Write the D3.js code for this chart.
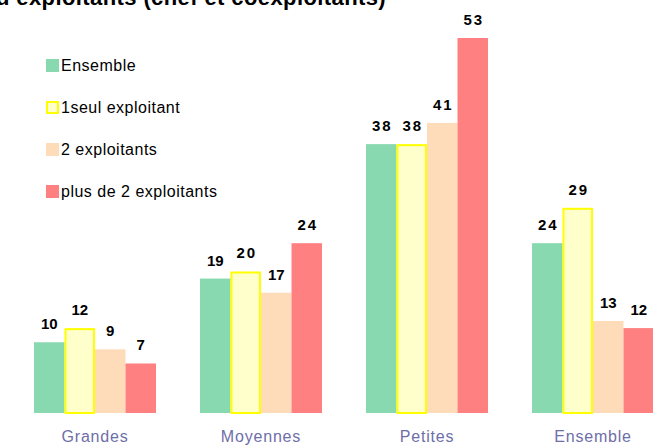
<!DOCTYPE html>
<html>
<head>
<meta charset="utf-8">
<script src="https://cdn.jsdelivr.net/npm/d3@7"></script>
<style>
  body { margin: 0; background: #fff; }
  svg { display: block; font-family: Arial, "Liberation Sans", sans-serif; }
</style>
</head>
<body>
<svg id="chart" width="653" height="447"></svg>
<script>
var categories = ["Grandes", "Moyennes", "Petites", "Ensemble"];
var seriesNames = ["Ensemble", "1seul exploitant", "2 exploitants", "plus de 2 exploitants"];
var ensemble = [10, 19, 38, 24];
var unSeul = [12, 20, 38, 29];
var deux = [9, 17, 41, 13];
var plusDeDeux = [7, 24, 53, 12];
var titleText = "d exploitants (chef et coexploitants)";

(function () {
  var svg = d3.select("#chart");
  var fills = ["#88d8b0", "#ffffcc", "#ffdcb9", "#ff8080"];
  var strokes = [null, "#ffff00", null, null];
  var values = [ensemble, unSeul, deux, plusDeDeux];

  var x0 = d3.scaleBand().domain(categories).range([34, 654]).paddingInner(0.265).paddingOuter(0);
  var x1 = d3.scaleBand().domain(d3.range(seriesNames.length)).range([0, x0.bandwidth()]);
  var y = d3.scaleLinear().domain([0, 53]).range([413, 38]);

  // title (clipped at the top, as in the source)
  svg.append("text")
    .attr("x", -4)
    .attr("y", 5)
    .attr("font-size", 22)
    .attr("font-weight", "bold")
    .attr("letter-spacing", "0.4px")
    .attr("fill", "#000")
    .text(titleText);

  var groups = svg.selectAll(".grp")
    .data(categories)
    .enter()
    .append("g")
    .attr("class", "grp")
    .attr("transform", function (d) { return "translate(" + x0(d) + ",0)"; });

  groups.each(function (cat, ci) {
    var g = d3.select(this);
    values.forEach(function (arr, si) {
      var v = arr[ci];
      var bx = x1(si), bw = x1.bandwidth();
      if (strokes[si]) {
        g.append("rect")
          .attr("x", bx + 1)
          .attr("y", y(v) + 1)
          .attr("width", bw - 2)
          .attr("height", y(0) - y(v) - 1)
          .attr("fill", fills[si])
          .attr("stroke", strokes[si])
          .attr("stroke-width", 2);
      } else {
        g.append("rect")
          .attr("x", bx)
          .attr("y", y(v))
          .attr("width", bw)
          .attr("height", y(0) - y(v))
          .attr("fill", fills[si]);
      }
      g.append("text")
        .attr("x", bx + bw / 2 + (v >= 20 ? 1 : 0))
        .attr("y", y(v) - 13)
        .attr("text-anchor", "middle")
        .attr("font-size", 15)
        .attr("font-weight", "bold")
        .attr("letter-spacing", v >= 20 ? "2px" : "0px")
        .attr("fill", "#000")
        .text(v);
    });
    g.append("text")
      .attr("x", x0.bandwidth() / 2)
      .attr("y", 442)
      .attr("text-anchor", "middle")
      .attr("font-size", 16)
      .attr("letter-spacing", "0.8px")
      .attr("fill", "#6e6ea8")
      .text(cat);
  });

  // legend
  var legend = svg.append("g").attr("transform", "translate(46,0)");
  seriesNames.forEach(function (name, i) {
    var cy = 65 + i * 42;
    legend.append("rect")
      .attr("x", strokes[i] ? 1 : 0)
      .attr("y", cy - 6 + (strokes[i] ? 1 : 0))
      .attr("width", strokes[i] ? 11 : 13)
      .attr("height", strokes[i] ? 11 : 13)
      .attr("fill", fills[i])
      .attr("stroke", strokes[i])
      .attr("stroke-width", strokes[i] ? 2 : 0);
    legend.append("text")
      .attr("x", 15)
      .attr("y", cy + 6)
      .attr("font-size", 16)
      .attr("letter-spacing", "0.5px")
      .attr("fill", "#000")
      .text(name);
  });
})();
</script>
</body>
</html>
